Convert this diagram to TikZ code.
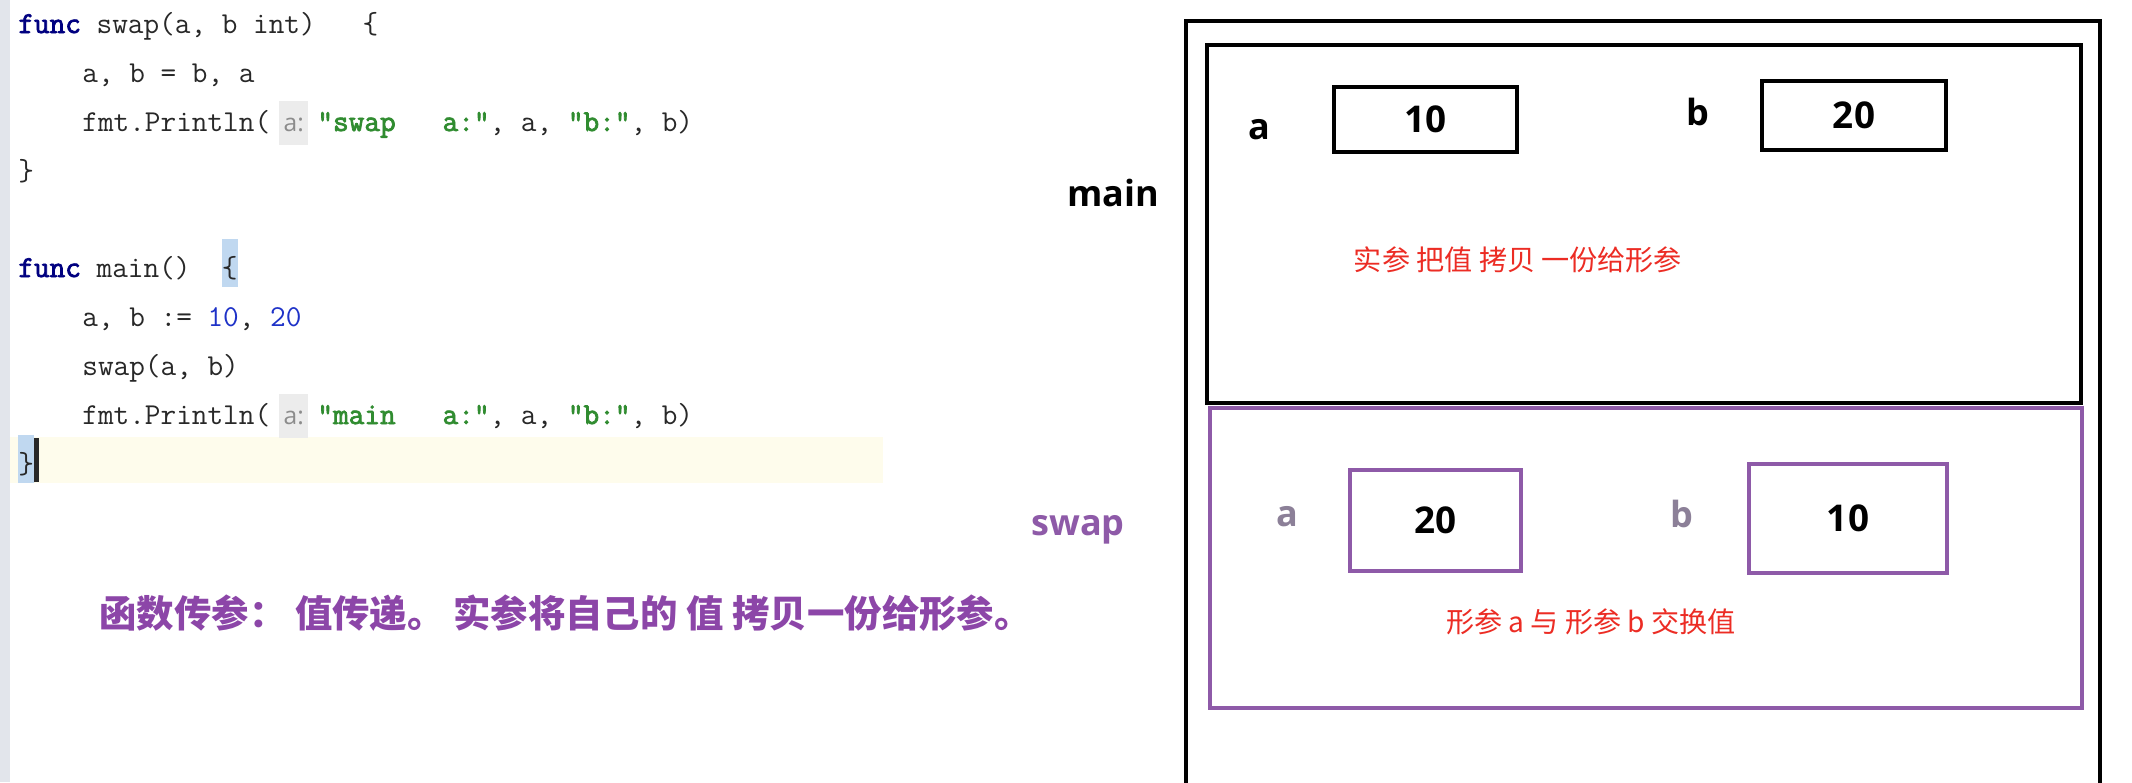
\documentclass[tikz,border=0pt]{standalone}
\usepackage{fontspec}
\setmainfont{Liberation Serif}
\setsansfont{Open Sans}
\newfontfamily\cjk{Noto Sans CJK SC}
\newfontfamily\codebold{Latin Modern Mono}[FakeBold=2.5]
\usepackage{tikz}

\definecolor{codetext}{RGB}{40,40,40}
\definecolor{keyword}{RGB}{0,0,128}
\definecolor{strgreen}{RGB}{48,140,48}
\definecolor{numblue}{RGB}{30,50,200}
\definecolor{hintfg}{RGB}{140,140,140}
\definecolor{hintbg}{RGB}{236,236,236}
\definecolor{bracebg}{RGB}{192,216,240}
\definecolor{linebg}{RGB}{254,252,236}
\definecolor{gutter}{RGB}{226,229,235}
\definecolor{swappurple}{RGB}{142,90,168}
\definecolor{notered}{RGB}{236,44,36}
\definecolor{notepurple}{RGB}{140,70,168}
\definecolor{labelgray}{RGB}{140,128,152}

\newcommand\gokw[1]{\textcolor{keyword}{\codebold #1}}
\newcommand\gostr[1]{\textcolor{strgreen}{\codebold #1}}
\newcommand\gonum[1]{\textcolor{numblue}{#1}}
\newcommand\gohint[1]{\hspace{0.3em}{\setlength\fboxsep{2.5pt}\colorbox{hintbg}{\rule[-0.3em]{0pt}{1.15em}\textcolor{hintfg}{\sffamily\fontsize{14}{16}\selectfont #1}}}\hspace{0.3em}}
\newcommand\gomatch[1]{{\setlength\fboxsep{0pt}\colorbox{bracebg}{\rule[-0.33em]{0pt}{1.58em}#1}}}

\tikzset{
	codeline/.style={anchor=base west, inner sep=0pt, text=codetext,
		font=\ttfamily\frenchspacing\fontsize{17.3}{20}\selectfont},
	frameline/.style={draw=black, line width=2.7pt},
	framelabel/.style={font=\sffamily\bfseries\fontsize{20.5}{24}\selectfont},
	varname/.style={font=\sffamily\bfseries\fontsize{20.5}{24}\selectfont},
	valbox/.style={draw=black, line width=2.4pt, inner sep=0pt,
		font=\sffamily\bfseries\fontsize{21}{24}\selectfont},
	note/.style={text=notered, font=\cjk\fontsize{16}{19}\selectfont},
	summary/.style={text=notepurple, inner sep=0pt, font=\cjk\bfseries\fontsize{21.3}{25}\selectfont}
}

\begin{document}
\begin{tikzpicture}[x=0.02cm, y=-0.02cm]
	\useasboundingbox (0,0) rectangle (2132,782);
	\fill[white] (0,0) rectangle (2132,782);
	\fill[gutter] (0,0) rectangle (10,782);
	\fill[linebg] (10,437) rectangle (883,483);

	\node[codeline] (l1) at (18,33) {\gokw{func} swap(a, b int)\ \ \ \{};
	\node[codeline] (l2) at (82,82) {a, b = b, a};
	\node[codeline] (l3) at (82,131) {fmt.Println(\gohint{a:}\gostr{"swap\ \ \ a:"}, a, \gostr{"b:"}, b)};
	\node[codeline] (l4) at (18,180) {\}};
	\node[codeline] (l5) at (18,277) {\gokw{func} main()\ \ \gomatch{\{}};
	\node[codeline] (l6) at (82,326) {a, b := \gonum{10}, \gonum{20}};
	\node[codeline] (l7) at (82,375) {swap(a, b)};
	\node[codeline] (l8) at (82,424) {fmt.Println(\gohint{a:}\gostr{"main\ \ \ a:"}, a, \gostr{"b:"}, b)};
	\node[codeline] (l9) at (18,473) {\gomatch{\}}\rule[-0.31em]{3pt}{1.45em}};

	\node[summary, anchor=west] (summary) at (99,613) {函数传参： 值传递。 实参将自己的 值 拷贝一份给形参。};

	\node[framelabel] (mainlbl) at (1113,193) {main};
	\node[framelabel, text=swappurple] (swaplbl) at (1078,530) {swap};

	\draw[frameline] (1186,790) -- (1186,21) -- (2100,21) -- (2100,790);
	\draw[frameline] (1207,45) rectangle (2081,403);
	\draw[frameline, draw=swappurple, line width=2.2pt] (1210,408) rectangle (2082,708);

	\node[varname] (ma) at (1259,130) {a};
	\node[valbox, minimum width=3.66cm, minimum height=1.3cm] (va) at (1425.5,119.5) {10};
	\node[varname] (mb) at (1698,112) {b};
	\node[valbox, minimum width=3.68cm, minimum height=1.38cm] (vb) at (1854,115.5) {20};
	\node[note] (copynote) at (1518,260) {实参 把值 拷贝 一份给形参};

	\node[varname, text=labelgray] (sa) at (1287,517) {a};
	\node[valbox, draw=swappurple, minimum width=3.42cm, minimum height=2.02cm] (ta) at (1435.5,520.5) {20};
	\node[varname, text=labelgray] (sb) at (1682,514) {b};
	\node[valbox, draw=swappurple, minimum width=3.96cm, minimum height=2.18cm] (tb) at (1848,518.5) {10};
	\node[note] (swapnote) at (1591,622) {形参 a 与 形参 b 交换值};
\end{tikzpicture}
\end{document}
